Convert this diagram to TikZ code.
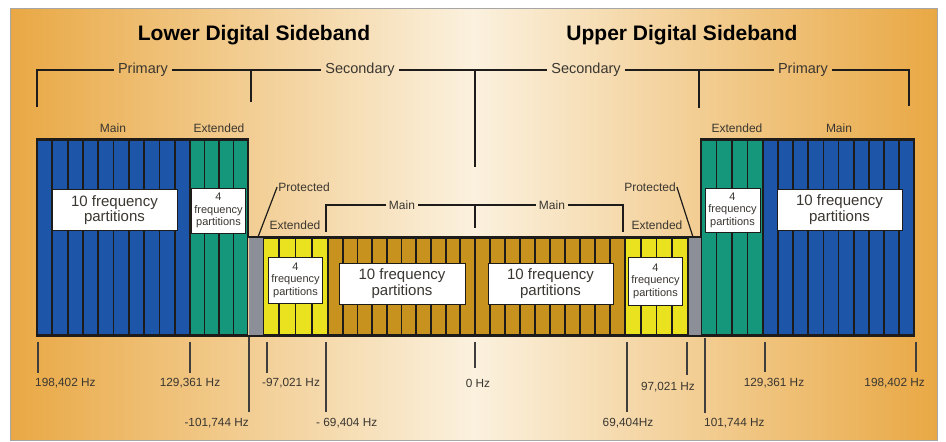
\documentclass[tikz,border=0pt]{standalone}
\usepackage{fontspec}
\setmainfont{Liberation Sans}
\usetikzlibrary{positioning,calc}
\definecolor{sbblue}{HTML}{1D55A8}
\definecolor{sbgreen}{HTML}{14977A}
\definecolor{sbyellow}{HTML}{EAE21E}
\definecolor{sbochre}{HTML}{C8921F}
\definecolor{sbgray}{HTML}{8C8E98}
\definecolor{sbdark}{HTML}{1E1C1A}
\definecolor{sbtext}{HTML}{3A3630}
\definecolor{sborange}{HTML}{E9A844}
\definecolor{sbcream}{HTML}{FBF1DE}

\begin{document}
\begin{tikzpicture}[
    x=1pt, y=-1pt,
    title/.style={font=\fontsize{21}{25}\selectfont\bfseries, text=black},
    group/.style={font=\fontsize{14.5}{16}\selectfont, text=sbtext, inner sep=4pt},
    sublabel/.style={font=\fontsize{12}{14}\selectfont, text=sbtext, inner sep=3pt},
    bigpart/.style={rectangle, draw=sbdark, fill=white, line width=0.9pt, minimum width=125pt, minimum height=41pt, align=center, inner sep=0pt, font=\fontsize{15}{15.5}\selectfont, text=sbtext},
    smallpart/.style={rectangle, draw=sbdark, fill=white, line width=0.9pt, minimum width=54pt, minimum height=45pt, align=center, inner sep=0pt, font=\fontsize{11}{12.5}\selectfont, text=sbtext},
    freq/.style={font=\fontsize{11.8}{13}\selectfont, text=sbtext, inner sep=0pt},
    brk/.style={line width=1.8pt, draw=sbdark},
    brkstem/.style={line width=2.8pt, draw=sbdark},
    subbrk/.style={line width=1.2pt, draw=sbdark},
    tick/.style={line width=1.4pt, draw=sbdark!85}
]
    \useasboundingbox (0,0) rectangle (946,442);
    % Panel
    \shade[left color=sborange, right color=sborange, middle color=sbcream, draw=gray!70, line width=0.6pt] (10,8) rectangle (937,440);

    % Frequency partitions (bars)
    \foreach \xa/\xb/\nb/\yt/\col in {37/190/10/139/sbblue, 190/248/4/139/sbgreen, 263/328/4/237/sbyellow, 328/475/10/237/sbochre, 475/625/10/237/sbochre, 625/688/4/237/sbyellow, 701/763/4/139/sbgreen, 763/914/10/139/sbblue}{
        \fill[sbdark] (\xa,\yt) rectangle (\xb,336);
        \pgfmathsetmacro{\bw}{(\xb-\xa)/\nb}
        \foreach \i in {1,...,\nb}
            \fill[\col] ({\xa+(\i-1)*\bw+0.9},{\yt+1.6}) rectangle ({\xa+\i*\bw-0.9},334.4);
    }
    \fill[sbgray] (249,237) rectangle (263,336);
    \fill[sbgray] (688,237) rectangle (701,336);
    \draw[line width=1.3pt, sbdark] (37,139) -| (248,237) -| (701,139) -| (914,336) -- (37,336) -- cycle;
    \draw[line width=1pt, sbdark] (263,237) -- (263,336) (688,237) -- (688,336);

    % Nodes
    \node (ltitle) [title] at (254,35) {Lower Digital Sideband};
    \node (utitle) [title] at (682,35) {Upper Digital Sideband};

    \node (lprim) [group] at (143,70) {Primary};
    \node (lsec) [group] at (360,70) {Secondary};
    \node (usec) [group] at (586,70) {Secondary};
    \node (uprim) [group] at (803,70) {Primary};

    \node (lmainlbl) [sublabel] at (113,128) {Main};
    \node (lextlbl) [sublabel] at (219,128) {Extended};
    \node (uextlbl) [sublabel] at (737,128) {Extended};
    \node (umainlbl) [sublabel] at (839,128) {Main};
    \node (lprot) [sublabel, inner sep=1pt] at (304,187) {Protected};
    \node (uprot) [sublabel, inner sep=1pt] at (650,187) {Protected};
    \node (lsecext) [sublabel] at (295,225) {Extended};
    \node (usecext) [sublabel] at (657,225) {Extended};
    \node (lsecmain) [sublabel] at (402,205) {Main};
    \node (usecmain) [sublabel] at (552,205) {Main};

    \node (lmainbox) [bigpart] at (114.5,210) {10 frequency\\partitions};
    \node (lextbox) [smallpart] at (218.5,210.5) {4\\frequency\\partitions};
    \node (lsecextbox) [smallpart, minimum height=46pt] at (295.5,280) {4\\frequency\\partitions};
    \node (lsecmainbox) [bigpart, minimum width=126pt] at (402,283.5) {10 frequency\\partitions};
    \node (usecmainbox) [bigpart] at (550.5,283.5) {10 frequency\\partitions};
    \node (usecextbox) [smallpart, minimum height=48pt] at (655.5,281) {4\\frequency\\partitions};
    \node (uextbox) [smallpart, minimum width=55pt, minimum height=44pt] at (732.5,210) {4\\frequency\\partitions};
    \node (umainbox) [bigpart] at (839.5,209.5) {10 frequency\\partitions};

    % Bracket ends
    \coordinate (lend) at (37,107);
    \coordinate (lcorner) at (37,70);
    \coordinate (uend) at (909,106);
    \coordinate (ucorner) at (909,70);
    \coordinate (lstem) at (251,70);
    \coordinate (lstemend) at (251,102);
    \coordinate (cstem) at (475,70);
    \coordinate (cstemend) at (475,167);
    \coordinate (ustem) at (699,70);
    \coordinate (ustemend) at (699,108);
    \coordinate (mleft) at (326,232);
    \coordinate (mright) at (623,232);
    \coordinate (mstem) at (475,205);
    \coordinate (mstemend) at (475,228);
    \coordinate (lgraytop) at (258,237);
    \coordinate (ugraytop) at (693,237);

    % Connectors
    \draw [brk] (lend) |- (lprim.west);
    \draw [brk] (lprim.east) -- (lsec.west);
    \draw [brk] (lsec.east) -- (usec.west);
    \draw [brk] (usec.east) -- (uprim.west);
    \draw [brk] (uprim.east) -| (uend);
    \draw [brkstem] (lcorner) -- (lend);
    \draw [brkstem] (ucorner) -- (uend);
    \draw [brkstem] (lstem) -- (lstemend);
    \draw [brkstem] (cstem) -- (cstemend);
    \draw [brkstem] (ustem) -- (ustemend);

    \draw [subbrk] (mleft) |- (lsecmain.west);
    \draw [subbrk] (lsecmain.east) -- (usecmain.west);
    \draw [subbrk] (usecmain.east) -| (mright);
    \draw [subbrk] (mstem) -- (mstemend);

    \draw [subbrk] (lprot.west) -- (lgraytop);
    \draw [subbrk] (uprot.east) -- (ugraytop);

    % Frequency ticks
    \foreach \tx/\ty/\tl in {38/342/31, 190/342/31, 249/337/75, 267/342/31, 326/342/70, 475/342/26, 627/342/70, 687/342/33, 705/338/75, 765/342/30, 916/342/30}
        \draw [tick] (\tx,\ty) -- ++(0,\tl);

    \node (f1) [freq, anchor=west] at (35,383) {198,402 Hz};
    \node (f2) [freq] at (190,383) {129,361 Hz};
    \node (f3) [freq, anchor=east] at (249,423) {-101,744 Hz};
    \node (f4) [freq, anchor=west] at (262,383) {-97,021 Hz};
    \node (f5) [freq, anchor=west] at (316,423) {- 69,404 Hz};
    \node (f6) [freq] at (478,383) {0 Hz};
    \node (f7) [freq] at (628,423) {69,404Hz};
    \node (f8) [freq, anchor=east] at (695,387) {97,021 Hz};
    \node (f9) [freq, anchor=west] at (704,423) {101,744 Hz};
    \node (f10) [freq] at (774,383) {129,361 Hz};
    \node (f11) [freq, anchor=east] at (925,383) {198,402 Hz};
\end{tikzpicture}
\end{document}
